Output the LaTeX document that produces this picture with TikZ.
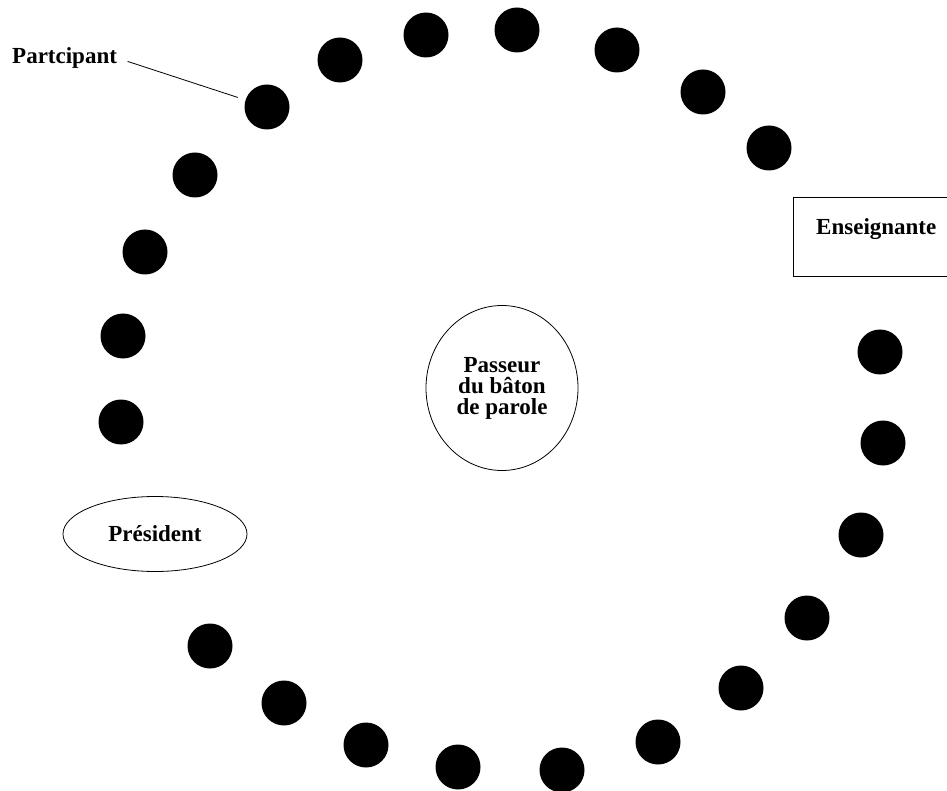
\documentclass[tikz,border=0pt]{standalone}
\usepackage{fontspec}
\setmainfont{Liberation Serif}
\usetikzlibrary{positioning,calc,shapes.geometric}

\tikzset{
  seat/.style={circle,fill=black,inner sep=0pt,minimum size=45pt},
  txt/.style={font=\bfseries\fontsize{23}{21}\selectfont,align=center},
}

\begin{document}
\begin{tikzpicture}[x=1pt,y=-1pt]
  \clip (0,0) rectangle (947,791);
  \fill[white] (0,0) rectangle (947,791);
  % participants round the circle
  \foreach \x/\y [count=\i] in {267/107,340/60,426/35,517/30,617/50,703/92,769/148,
      880/352,883/443,861/535,807/618,741/688,658/742,562/770,458/767,366/745,
      284/703,210/646,121/422,123/336,145/252,195/175} {
    \node[seat] (p\i) at (\x,\y) {};
  }
  % label of one participant
  \node[txt,anchor=west,inner sep=0pt] (lbl) at (12,58) {Partcipant};
  \draw[line width=0.8pt,shorten <=11pt,shorten >=8pt] (lbl.east) -- (p1);
  % teacher, box cut by the edge
  \node[draw,line width=1.2pt,anchor=north west,minimum width=180pt,minimum height=79pt] (ens) at (793,197) {};
  \node[txt,anchor=west,inner sep=0pt] (enstxt) at (816,229) {Enseignante};
  % president
  \node[txt,ellipse,draw,line width=0.8pt,minimum width=184pt,minimum height=75pt,inner sep=0pt] (pres) at (155,534) {Président};
  % centre
  \node[txt,ellipse,draw,line width=0.8pt,minimum width=152pt,minimum height=165pt,inner sep=0pt] (passeur) at (502,388) {Passeur\\du bâton\\de parole};
\end{tikzpicture}
\end{document}
